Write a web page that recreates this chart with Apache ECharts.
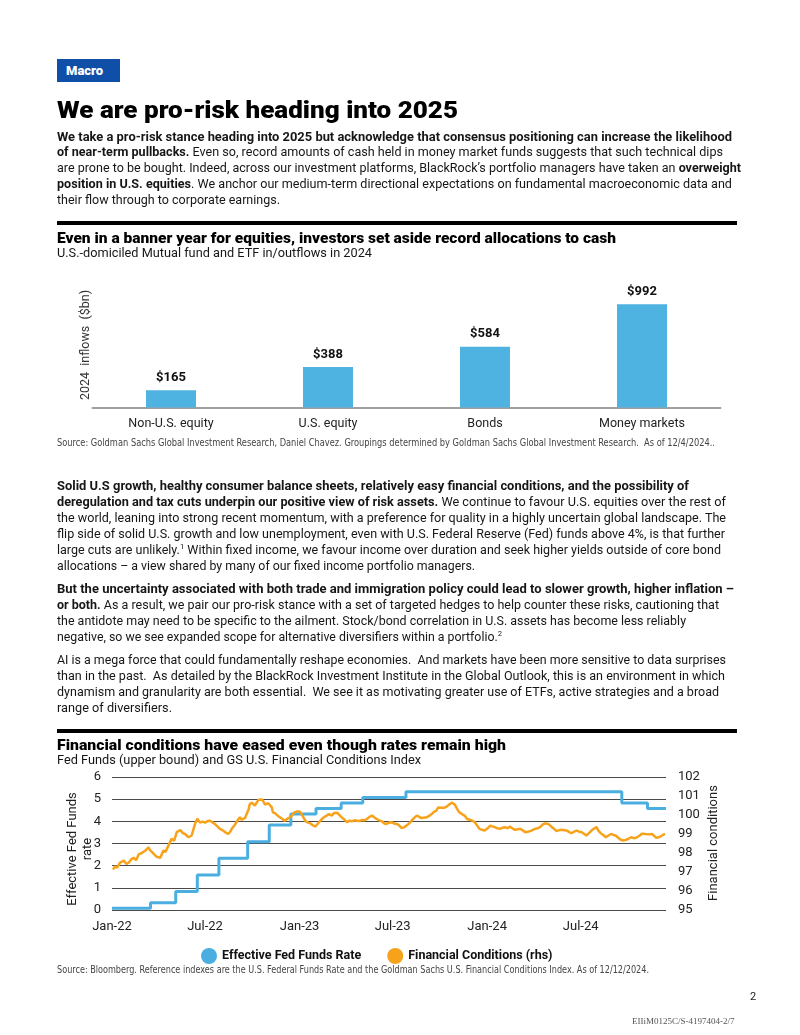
<!DOCTYPE html>
<html><head><meta charset="utf-8">
<script src="https://cdn.jsdelivr.net/npm/echarts@6/dist/echarts.min.js"></script>
<style>
html,body{margin:0;padding:0;background:#fff;}
body{width:800px;height:1035px;position:relative;overflow:hidden;font-family:Roboto,"Noto Sans",sans-serif;color:#161616;}
#chart{position:absolute;left:0;top:0;width:800px;height:1035px;z-index:0;}
.a{position:absolute;left:57px;white-space:nowrap;transform-origin:0 50%;z-index:1;}
.p{font-size:13px;line-height:16px;}
b{font-weight:700;}
sup{font-size:8px;line-height:0;vertical-align:5px;}
.macro{position:absolute;left:57px;top:59px;width:63px;height:23px;background:#0f4fa8;color:#fff;font-weight:900;font-size:13px;line-height:23px;z-index:1;}
.macro span{position:absolute;left:9px;}
.title{font-size:23px;line-height:27px;font-weight:900;color:#000;}
.ct{font-size:15px;line-height:18px;font-weight:900;color:#000;}
.src{font-family:"Liberation Sans Narrow","DejaVu Sans Condensed",Roboto,sans-serif;font-size:10.5px;line-height:12px;color:#444;}
.rule{position:absolute;left:57px;width:680px;height:4px;background:#000;z-index:1;}
</style></head>
<body>
<div id="chart"></div>

<div class="macro"><span>Macro</span></div>
<div class="a title" data-w="401" style="top:97px">We are pro-risk heading into 2025</div>

<div class="a p" data-w="675" style="top:129px"><b>We take a pro-risk stance heading into 2025 but acknowledge that consensus positioning can increase the likelihood</b></div>
<div class="a p" data-w="666" style="top:144px"><b>of near-term pullbacks.</b> Even so, record amounts of cash held in money market funds suggests that such technical dips</div>
<div class="a p" data-w="684" style="top:160px">are prone to be bought. Indeed, across our investment platforms, BlackRock’s portfolio managers have taken an <b>overweight</b></div>
<div class="a p" data-w="675" style="top:176px"><b>position in U.S. equities</b>. We anchor our medium-term directional expectations on fundamental macroeconomic data and</div>
<div class="a p" data-w="223" style="top:192px">their flow through to corporate earnings.</div>

<div class="rule" style="top:221px"></div>
<div class="a ct" data-w="559" style="top:229px">Even in a banner year for equities, investors set aside record allocations to cash</div>
<div class="a p" data-w="315" style="top:245px">U.S.-domiciled Mutual fund and ETF in/outflows in 2024</div>
<div class="a src" data-w="658" style="top:436px">Source: Goldman Sachs Global Investment Research, Daniel Chavez. Groupings determined by Goldman Sachs Global Investment Research.&nbsp; As of 12/4/2024..</div>

<div class="a p" data-w="632" style="top:478px"><b>Solid U.S growth, healthy consumer balance sheets, relatively easy financial conditions, and the possibility of</b></div>
<div class="a p" data-w="669" style="top:494px"><b>deregulation and tax cuts underpin our positive view of risk assets.</b> We continue to favour U.S. equities over the rest of</div>
<div class="a p" data-w="669" style="top:510px">the world, leaning into strong recent momentum, with a preference for quality in a highly uncertain global landscape. The</div>
<div class="a p" data-w="668" style="top:526px">flip side of solid U.S. growth and low unemployment, even with U.S. Federal Reserve (Fed) funds above 4%, is that further</div>
<div class="a p" data-w="664" style="top:542px">large cuts are unlikely.<sup>1</sup> Within fixed income, we favour income over duration and seek higher yields outside of core bond</div>
<div class="a p" data-w="418" style="top:558px">allocations – a view shared by many of our fixed income portfolio managers.</div>

<div class="a p" data-w="677" style="top:581px"><b>But the uncertainty associated with both trade and immigration policy could lead to slower growth, higher inflation –</b></div>
<div class="a p" data-w="662" style="top:597px"><b>or both.</b> As a result, we pair our pro-risk stance with a set of targeted hedges to help counter these risks, cautioning that</div>
<div class="a p" data-w="629" style="top:613px">the antidote may need to be specific to the ailment. Stock/bond correlation in U.S. assets has become less reliably</div>
<div class="a p" data-w="445" style="top:629px">negative, so we see expanded scope for alternative diversifiers within a portfolio.<sup>2</sup></div>

<div class="a p" data-w="669" style="top:652px">AI is a mega force that could fundamentally reshape economies.&nbsp; And markets have been more sensitive to data surprises</div>
<div class="a p" data-w="668" style="top:668px">than in the past.&nbsp; As detailed by the BlackRock Investment Institute in the Global Outlook, this is an environment in which</div>
<div class="a p" data-w="662" style="top:684px">dynamism and granularity are both essential.&nbsp; We see it as motivating greater use of ETFs, active strategies and a broad</div>
<div class="a p" data-w="115" style="top:700px">range of diversifiers.</div>

<div class="rule" style="top:729px"></div>
<div class="a ct" data-w="449" style="top:736px">Financial conditions have eased even though rates remain high</div>
<div class="a p" data-w="364" style="top:752px">Fed Funds (upper bound) and GS U.S. Financial Conditions Index</div>
<div class="a src" data-w="592" style="top:963px">Source: Bloomberg. Reference indexes are the U.S. Federal Funds Rate and the Goldman Sachs U.S. Financial Conditions Index. As of 12/12/2024.</div>

<div style="position:absolute;left:750px;top:990px;font-size:11px;line-height:14px;color:#222;z-index:1">2</div>
<div style="position:absolute;left:632px;top:1015px;font-family:'Liberation Serif',serif;font-size:9px;line-height:12px;color:#555;z-index:1">EIIiM0125C/S-4197404-2/7</div>

<script>
// ---------- data ----------
const barCategories = ['Non-U.S. equity', 'U.S. equity', 'Bonds', 'Money markets'];
const barValues = [165, 388, 584, 992];

const fedChangeDates = ['2022-01-01','2022-03-17','2022-05-05','2022-06-16','2022-07-28','2022-09-22','2022-11-03','2022-12-15','2023-02-02','2023-03-23','2023-05-04','2023-07-27','2024-09-19','2024-11-08','2024-12-14'];
const fedRates = [0.08,0.33,0.83,1.58,2.33,3.08,3.83,4.33,4.58,4.83,5.08,5.33,4.83,4.58,4.58];

const fciDates = [
'2022-01-03','2022-01-07','2022-01-11','2022-01-17','2022-01-24','2022-01-29','2022-02-03','2022-02-08','2022-02-12','2022-02-17',
'2022-02-22','2022-02-28','2022-03-02','2022-03-07','2022-03-13','2022-03-16','2022-03-20','2022-03-25','2022-03-29','2022-04-05',
'2022-04-11','2022-04-15','2022-04-21','2022-04-27','2022-05-02','2022-05-07','2022-05-14','2022-05-19','2022-05-23','2022-05-30',
'2022-06-05','2022-06-09','2022-06-12','2022-06-16','2022-06-21','2022-06-26','2022-07-01','2022-07-06','2022-07-11','2022-07-16',
'2022-07-20','2022-07-25','2022-07-30','2022-08-04','2022-08-09','2022-08-15','2022-08-19','2022-08-22','2022-08-27','2022-08-31',
'2022-09-03','2022-09-07','2022-09-10','2022-09-13','2022-09-17','2022-09-20','2022-09-24','2022-09-26','2022-09-30','2022-10-03',
'2022-10-06','2022-10-09','2022-10-13','2022-10-16','2022-10-20','2022-10-22','2022-10-26','2022-10-29','2022-11-01','2022-11-04',
'2022-11-08','2022-11-10','2022-11-14','2022-11-17','2022-11-20','2022-11-23','2022-11-28','2022-12-03','2022-12-08','2022-12-13',
'2022-12-18','2022-12-22','2022-12-27','2023-01-01','2023-01-05','2023-01-09','2023-01-13','2023-01-18','2023-01-22','2023-01-27',
'2023-02-01','2023-02-04','2023-02-07','2023-02-12','2023-02-17','2023-02-22','2023-02-27','2023-03-01','2023-03-05','2023-03-09',
'2023-03-12','2023-03-15','2023-03-18','2023-03-23','2023-03-28','2023-04-03','2023-04-08','2023-04-13','2023-04-18','2023-04-23',
'2023-04-27','2023-05-02','2023-05-07','2023-05-12','2023-05-17','2023-05-22','2023-05-26','2023-05-31','2023-06-05','2023-06-10',
'2023-06-15','2023-06-19','2023-06-24','2023-06-29','2023-07-04','2023-07-09','2023-07-14','2023-07-18','2023-07-23','2023-07-28',
'2023-08-02','2023-08-07','2023-08-12','2023-08-17','2023-08-22','2023-08-26','2023-08-31','2023-09-05','2023-09-10','2023-09-15',
'2023-09-19','2023-09-24','2023-09-28','2023-10-01','2023-10-04','2023-10-07','2023-10-10','2023-10-14','2023-10-17','2023-10-20',
'2023-10-24','2023-10-27','2023-10-30','2023-11-02','2023-11-05','2023-11-08','2023-11-13','2023-11-18','2023-11-23','2023-11-28',
'2023-12-03','2023-12-08','2023-12-11','2023-12-17','2023-12-22','2023-12-27','2024-01-02','2024-01-07','2024-01-11','2024-01-16',
'2024-01-21','2024-01-26','2024-01-31','2024-02-05','2024-02-10','2024-02-14','2024-02-19','2024-02-24','2024-03-01','2024-03-05',
'2024-03-10','2024-03-15','2024-03-20','2024-03-25','2024-03-29','2024-04-03','2024-04-08','2024-04-13','2024-04-18','2024-04-23',
'2024-04-26','2024-04-29','2024-05-02','2024-05-06','2024-05-10','2024-05-15','2024-05-20','2024-05-25','2024-05-30','2024-06-04',
'2024-06-09','2024-06-13','2024-06-18','2024-06-23','2024-06-28','2024-07-03','2024-07-08','2024-07-12','2024-07-17','2024-07-22',
'2024-07-25','2024-07-28','2024-08-01','2024-08-05','2024-08-09','2024-08-14','2024-08-19','2024-08-24','2024-08-29','2024-09-03',
'2024-09-07','2024-09-12','2024-09-17','2024-09-22','2024-09-27','2024-10-02','2024-10-07','2024-10-12','2024-10-17','2024-10-20',
'2024-10-24','2024-10-28','2024-10-31','2024-11-03','2024-11-06','2024-11-10','2024-11-13','2024-11-17','2024-11-21','2024-11-25',
'2024-11-30','2024-12-04','2024-12-09','2024-12-12'];
const fciValues = [
97.13,97.30,97.23,97.50,97.60,97.42,97.50,97.68,97.75,97.62,
97.93,98.00,97.90,98.13,98.30,98.15,98.05,97.90,97.80,97.75,
98.13,98.05,98.40,98.75,98.65,99.10,99.20,99.05,99.00,98.83,
98.92,99.30,99.56,99.80,99.60,99.65,99.60,99.68,99.70,99.60,
99.53,99.40,99.27,99.20,99.10,99.00,99.12,99.27,99.45,99.60,
99.75,99.88,99.75,99.70,99.85,100.05,100.30,100.57,100.65,100.70,
100.50,100.54,100.80,100.89,100.82,100.75,100.55,100.50,100.62,100.70,
100.40,100.14,100.10,100.02,99.95,99.90,99.80,99.70,99.80,99.88,
100.00,100.14,100.19,100.19,100.05,99.85,99.67,99.60,99.56,99.45,
99.39,99.50,99.56,99.75,99.88,99.95,100.05,100.00,99.97,100.10,
100.19,100.12,100.05,99.90,99.79,99.62,99.70,99.67,99.72,99.70,
99.68,99.74,99.72,99.79,99.90,99.97,99.88,99.79,99.72,99.67,
99.55,99.53,99.60,99.62,99.55,99.53,99.45,99.32,99.35,99.44,
99.55,99.70,99.85,99.97,99.90,99.84,99.86,99.88,99.95,100.05,
100.15,100.23,100.40,100.49,100.38,100.31,100.38,100.44,100.50,100.57,
100.65,100.71,100.55,100.40,100.25,100.14,100.05,99.97,99.79,99.75,
99.70,99.62,99.56,99.27,99.22,99.18,99.30,99.44,99.40,99.36,
99.30,99.27,99.33,99.36,99.30,99.39,99.30,99.22,99.25,99.27,
99.20,99.09,99.12,99.15,99.20,99.27,99.30,99.36,99.50,99.56,
99.50,99.53,99.45,99.36,99.28,99.15,99.20,99.22,99.20,99.18,
99.10,99.04,99.12,99.18,99.12,99.09,99.00,98.92,99.05,99.18,
99.22,99.30,99.36,99.15,99.04,98.95,98.83,98.92,99.00,98.95,
98.92,98.80,98.70,98.66,98.69,98.75,98.83,98.78,98.80,98.88,
98.92,99.02,99.09,99.00,98.92,98.98,99.04,99.00,98.90,98.80,
98.83,98.88,98.97,99.00];

const xTickDates = ['2022-01-01','2022-07-01','2023-01-01','2023-07-01','2024-01-01','2024-07-01'];
const xTickLabels = ['Jan-22','Jul-22','Jan-23','Jul-23','Jan-24','Jul-24'];
const xRange = ['2022-01-01','2024-12-14'];
const seriesNames = ['Effective Fed Funds Rate', 'Financial Conditions (rhs)'];

// ---------- chart ----------
const ts = d => Date.parse(d + 'T00:00:00Z');
const tickTs = xTickDates.map(ts);
const FONT = 'Roboto, "Noto Sans", sans-serif';
const BLUE = '#4aafe0', ORANGE = '#f7a21b', BAR = '#4fb3e1';

const chart = echarts.init(document.getElementById('chart'), null, {renderer: 'canvas'});
chart.setOption({
  animation: false,
  textStyle: {fontFamily: FONT},
  grid: [
    {left: 92.5, top: 293, width: 628, height: 114.5},
    {left: 112, top: 777, width: 554, height: 133}
  ],
  xAxis: [
    {type: 'category', gridIndex: 0, data: barCategories,
     axisLine: {lineStyle: {color: '#a0a0a0', width: 2}}, axisTick: {show: false},
     axisLabel: {fontSize: 12.5, color: '#222', margin: 10}},
    {type: 'value', gridIndex: 1, min: ts(xRange[0]), max: ts(xRange[1]),
     axisLine: {show: false}, axisTick: {show: false}, splitLine: {show: false},
     axisLabel: {customValues: tickTs, fontSize: 13, color: '#222', margin: 10,
       formatter: v => { const i = tickTs.indexOf(v); return i >= 0 ? xTickLabels[i] : ''; }}}
  ],
  yAxis: [
    {type: 'value', gridIndex: 0, min: 0, max: 1100, show: false},
    {type: 'value', gridIndex: 1, min: 0, max: 6, interval: 1,
     axisLine: {show: false}, axisTick: {show: false},
     axisLabel: {fontSize: 13, color: '#222', margin: 11},
     splitLine: {lineStyle: {color: '#4a4a4a', width: 1}}},
    {type: 'value', gridIndex: 1, position: 'right', min: 95, max: 102, interval: 1,
     axisLine: {show: false}, axisTick: {show: false},
     axisLabel: {fontSize: 13, color: '#222', margin: 12},
     splitLine: {show: false}}
  ],
  legend: {
    data: seriesNames, left: 196, top: 943, icon: 'circle',
    itemWidth: 16, itemHeight: 16, itemGap: 26,
    textStyle: {fontSize: 12.5, fontWeight: 'bold', color: '#111', fontFamily: FONT}
  },
  series: [
    {type: 'bar', xAxisIndex: 0, yAxisIndex: 0, data: barValues, barWidth: 50,
     itemStyle: {color: BAR},
     label: {show: true, position: 'top', distance: 6, fontSize: 13, fontWeight: 'bold', color: '#111',
       formatter: p => '$' + p.value}},
    {type: 'line', name: seriesNames[0], xAxisIndex: 1, yAxisIndex: 1, step: 'end',
     showSymbol: false, color: BLUE, lineStyle: {color: BLUE, width: 3},
     data: fedChangeDates.map((d, i) => [ts(d), fedRates[i]])},
    {type: 'line', name: seriesNames[1], xAxisIndex: 1, yAxisIndex: 2,
     showSymbol: false, color: ORANGE, lineStyle: {color: ORANGE, width: 2.5},
     data: fciDates.map((d, i) => [ts(d), fciValues[i]])}
  ],
  graphic: [
    {type: 'text', x: 86, y: 345, rotation: Math.PI / 2,
     style: {text: '2024  inflows  ($bn)', font: '12.5px ' + FONT, fill: '#333',
       textAlign: 'center', textVerticalAlign: 'middle', align: 'center', verticalAlign: 'middle'}},
    {type: 'text', x: 80, y: 849, rotation: Math.PI / 2,
     style: {text: 'Effective Fed Funds\nrate', font: '13px ' + FONT, fill: '#222', lineHeight: 15,
       textAlign: 'center', textVerticalAlign: 'middle', align: 'center', verticalAlign: 'middle'}},
    {type: 'text', x: 714, y: 843, rotation: Math.PI / 2,
     style: {text: 'Financial conditions', font: '13px ' + FONT, fill: '#222',
       textAlign: 'center', textVerticalAlign: 'middle', align: 'center', verticalAlign: 'middle'}}
  ]
});

// fit text lines to the widths measured on the reference
function fit() {
  document.querySelectorAll('[data-w]').forEach(el => {
    el.style.transform = 'none';
    const w = el.getBoundingClientRect().width;
    const t = +el.dataset.w;
    if (w > 0) el.style.transform = 'scaleX(' + (t / w).toFixed(4) + ')';
  });
}
fit();
if (document.fonts && document.fonts.ready) document.fonts.ready.then(fit);
</script>
</body></html>
